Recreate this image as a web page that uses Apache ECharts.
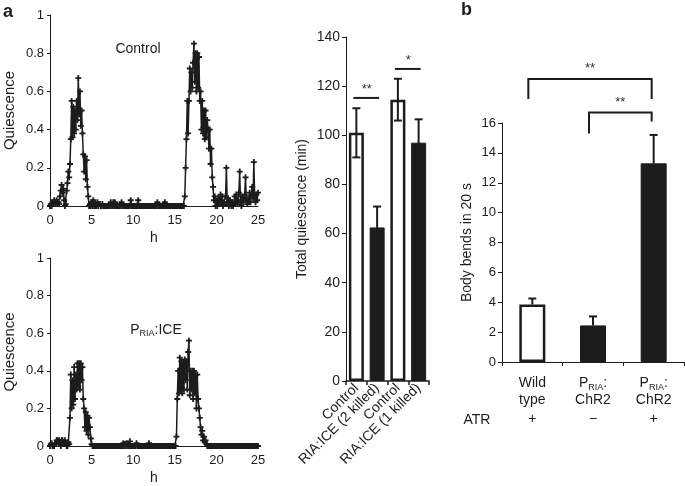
<!DOCTYPE html>
<html>
<head>
<meta charset="utf-8">
<script src="https://cdn.jsdelivr.net/npm/echarts@6/dist/echarts.min.js"></script>
<style>
html, body { margin: 0; padding: 0; background: #fff; }
#chart { width: 685px; height: 486px; }
</style>
</head>
<body>
<div id="chart"></div>
<script>
// quiescence traces, one sample every 0.1 h from 0 to 25 h (one row per hour)
const stepH = 0.1;
const controlTrace = [
  0,
  0.01, 0, 0.02, 0.01, 0.03, 0.02, 0.01, 0.03, 0.01, 0.02,
  0.01, 0.05, 0.08, 0.11, 0.07, 0.09, 0.03, 0, 0.01, 0.08,
  0.12, 0.18, 0.15, 0.22, 0.35, 0.55, 0.36, 0.52, 0.38, 0.5,
  0.4, 0.55, 0.45, 0.67, 0.48, 0.6, 0.42, 0.5, 0.38, 0.27,
  0.18, 0.26, 0.14, 0.24, 0.1, 0.05, 0, 0.01, 0, 0.02,
  0, 0.03, 0, 0.01, 0, 0, 0.02, 0, 0.01, 0.01,
  0, 0, 0.01, 0, 0, 0, 0, 0, 0, 0,
  0, 0, 0.02, 0, 0, 0.02, 0, 0.02, 0, 0,
  0, 0, 0, 0, 0, 0.02, 0, 0, 0, 0,
  0, 0, 0, 0, 0, 0, 0.03, 0, 0, 0,
  0, 0, 0, 0, 0, 0.03, 0, 0, 0, 0,
  0, 0, 0, 0, 0, 0, 0, 0, 0, 0,
  0, 0, 0, 0, 0, 0, 0, 0, 0.02, 0,
  0, 0, 0, 0, 0, 0, 0, 0.02, 0, 0,
  0, 0, 0, 0, 0, 0, 0, 0, 0, 0,
  0, 0, 0, 0, 0, 0, 0, 0, 0, 0,
  0, 0.05, 0.2, 0.35, 0.55, 0.38, 0.55, 0.72, 0.6, 0.7,
  0.62, 0.75, 0.85, 0.65, 0.8, 0.6, 0.8, 0.62, 0.78, 0.55,
  0.6, 0.4, 0.55, 0.38, 0.5, 0.35, 0.5, 0.36, 0.45, 0.4,
  0.3, 0.4, 0.22, 0.3, 0.15, 0.1, 0.03, 0.05, 0, 0.02,
  0, 0.04, 0.01, 0.03, 0.06, 0.02, 0.05, 0, 0.02, 0.01,
  0.05, 0.2, 0.02, 0.04, 0, 0.03, 0.01, 0, 0.02, 0,
  0.01, 0.05, 0.02, 0.06, 0.01, 0.03, 0.07, 0.18, 0.02, 0,
  0.05, 0.02, 0.04, 0.06, 0.15, 0.03, 0.01, 0.04, 0.02, 0.07,
  0.02, 0.06, 0.1, 0.04, 0.23, 0.05, 0.02, 0.06, 0.03, 0.07
];
const iceTrace = [
  0,
  0.01, 0.015, 0, 0, 0, 0.01, 0.01, 0.03, 0.03, 0.02,
  0.03, 0.01, 0, 0.03, 0.03, 0.01, 0.01, 0.03, 0.01, 0,
  0, 0.02, 0.01, 0.15, 0.38, 0.2, 0.35, 0.22, 0.42, 0.25,
  0.38, 0.3, 0.44, 0.32, 0.44, 0.3, 0.44, 0.35, 0.42, 0.25,
  0.2, 0.1, 0.18, 0.08, 0.16, 0.06, 0.15, 0.1, 0.04, 0.01,
  0, 0, 0, 0, 0, 0, 0, 0, 0, 0,
  0, 0, 0, 0, 0, 0, 0, 0, 0, 0,
  0, 0, 0, 0, 0, 0, 0, 0, 0, 0,
  0, 0, 0, 0, 0, 0, 0, 0.015, 0, 0.01,
  0, 0.015, 0, 0, 0, 0.025, 0, 0, 0, 0,
  0, 0, 0, 0.015, 0, 0, 0, 0, 0, 0,
  0, 0, 0, 0, 0, 0, 0, 0, 0.015, 0,
  0, 0, 0, 0, 0, 0, 0, 0, 0, 0,
  0, 0, 0, 0, 0, 0, 0, 0, 0, 0,
  0, 0, 0, 0, 0, 0, 0, 0, 0, 0,
  0, 0.05, 0.25, 0.4, 0.28, 0.47, 0.3, 0.45, 0.28, 0.44,
  0.3, 0.46, 0.35, 0.45, 0.3, 0.5, 0.56, 0.27, 0.4, 0.3,
  0.4, 0.25, 0.4, 0.28, 0.38, 0.2, 0.38, 0.25, 0.2, 0.15,
  0.1, 0.06, 0.08, 0.03, 0.05, 0.02, 0.03, 0.01, 0, 0,
  0, 0, 0, 0, 0, 0, 0, 0, 0, 0,
  0, 0, 0, 0, 0, 0, 0, 0, 0, 0,
  0, 0, 0, 0, 0, 0, 0, 0, 0, 0,
  0, 0, 0, 0, 0, 0, 0, 0, 0, 0,
  0, 0, 0, 0, 0, 0, 0, 0, 0, 0,
  0, 0, 0, 0, 0, 0, 0, 0, 0, 0
];

// total quiescence (min)
const totalCats = ['Control', 'RIA:ICE (2 killed)', 'Control', 'RIA:ICE (1 killed)'];
const totalMean = [101, 62.5, 114.5, 97];
const totalErr = [10, 8.5, 8.5, 9.5];
const totalSig = [[0, 1, 115.2], [2, 3, 127]];
const totalSigText = ['**', '*'];

// body bends in 20 s
const bendCats = ['Wild type', 'PRIA: ChR2', 'PRIA: ChR2 '];
const bendMean = [3.85, 2.45, 13.3];
const bendErr = [0.4, 0.6, 1.9];
const atrSigns = ['+', '\u2212', '+'];
// bracket: from, to, top, left leg end, right leg end
const bendSig = [[0, 2, 18.95, 17.6, 17.6], [1, 2, 16.7, 15.3, 16.1]];
const bendSigText = ['**', '**'];

const FONT = 'Liberation Sans, Arial, sans-serif';
const INK = '#1c1c1c';
const openBar = [true, false, true, false];

const myChart = echarts.init(document.getElementById('chart'));

function traceAxisY(idx) {
  return {
    type: 'value', gridIndex: idx, min: 0, max: 1, interval: 0.2,
    name: 'Quiescence', nameLocation: 'middle', nameGap: 33,
    nameTextStyle: { fontFamily: FONT, fontSize: 15, color: INK },
    axisLine: { show: true, lineStyle: { color: INK, width: 1 } },
    axisTick: { show: true, length: 3, lineStyle: { color: INK } },
    axisLabel: { fontFamily: FONT, fontSize: 13, color: INK, margin: 6 },
    splitLine: { show: false }
  };
}
function traceAxisX(idx) {
  return {
    type: 'value', gridIndex: idx, min: 0, max: 25, interval: 5,
    name: 'h', nameLocation: 'middle', nameGap: 25,
    nameTextStyle: { fontFamily: FONT, fontSize: 14, color: INK },
    axisLine: { lineStyle: { color: INK, width: 1 } },
    axisTick: { show: false },
    axisLabel: { fontFamily: FONT, fontSize: 13, color: INK, margin: 8 },
    splitLine: { show: false }
  };
}
function traceSeries(idx, trace) {
  return {
    type: 'line', xAxisIndex: idx, yAxisIndex: idx,
    data: trace.map((v, i) => [+(i * stepH).toFixed(1), v]),
    symbol: 'path://M0,1.4H4V2.6H0Z M1.4,0H2.6V4H1.4Z',
    symbolSize: 6, showAllSymbol: true,
    itemStyle: { color: INK },
    lineStyle: { color: INK, width: 1.5 },
    animation: false
  };
}

function errorBars(xIdx, yIdx, mean, err, twoSided, cap) {
  return {
    type: 'custom', xAxisIndex: xIdx, yAxisIndex: yIdx, z: 5,
    data: mean.map((m, i) => [i, m, err[i]]),
    renderItem: function (params, api) {
      const i = api.value(0), m = api.value(1), e = api.value(2);
      const top = api.coord([i, m + e]);
      const bot = api.coord([i, twoSided ? m - e : m]);
      const st = { stroke: INK, lineWidth: 2 };
      const kids = [
        { type: 'line', shape: { x1: top[0], y1: top[1], x2: bot[0], y2: bot[1] }, style: st },
        { type: 'line', shape: { x1: top[0] - cap, y1: top[1], x2: top[0] + cap, y2: top[1] }, style: st }
      ];
      if (twoSided) {
        kids.push({ type: 'line', shape: { x1: bot[0] - cap, y1: bot[1], x2: bot[0] + cap, y2: bot[1] }, style: st });
      }
      return { type: 'group', children: kids };
    },
    animation: false
  };
}

myChart.setOption({
  backgroundColor: '#fff',
  animation: false,
  grid: [
    { left: 50, top: 15, width: 208, height: 191 },
    { left: 50, top: 258, width: 208, height: 191 },
    { left: 346, top: 37, width: 83, height: 344 },
    { left: 502, top: 123, width: 182, height: 239 }
  ],
  xAxis: [
    traceAxisX(0),
    traceAxisX(1),
    {
      type: 'category', gridIndex: 2, data: totalCats,
      axisLine: { lineStyle: { color: INK, width: 1.5 } },
      axisTick: { show: true, length: 4, lineStyle: { color: INK, width: 1.5 } },
      axisLabel: { fontFamily: FONT, fontSize: 14, color: INK, rotate: 45, margin: 5, interval: 0 }
    },
    {
      type: 'category', gridIndex: 3, data: bendCats,
      axisLine: { lineStyle: { color: INK, width: 1 } },
      axisTick: { show: true, length: 4, lineStyle: { color: INK } },
      axisLabel: {
        interval: 0, margin: 13, color: INK, fontFamily: FONT, fontSize: 14, lineHeight: 17,
        formatter: function (v, i) {
          const lines = i === 0 ? ['{n|Wild}', '{n|type}'] : ['{n|P}{s|RIA}{n|:}', '{n|ChR2}'];
          return lines.join('\n') + '\n{a|' + atrSigns[i] + '}';
        },
        rich: {
          n: { fontFamily: FONT, fontSize: 14, color: INK, lineHeight: 17 },
          s: { fontFamily: FONT, fontSize: 9, color: INK, lineHeight: 17, verticalAlign: 'bottom', padding: [6, 0, 0, 0] },
          a: { fontFamily: FONT, fontSize: 14, color: INK, lineHeight: 20 }
        }
      }
    }
  ],
  yAxis: [
    traceAxisY(0),
    traceAxisY(1),
    {
      type: 'value', gridIndex: 2, min: 0, max: 140, interval: 20,
      name: 'Total quiescence (min)', nameLocation: 'middle', nameGap: 37,
      nameTextStyle: { fontFamily: FONT, fontSize: 14, color: INK },
      axisLine: { show: true, lineStyle: { color: INK, width: 1 } },
      axisTick: { show: true, length: 4, lineStyle: { color: INK } },
      axisLabel: { fontFamily: FONT, fontSize: 14, color: INK, margin: 6 },
      splitLine: { show: false }
    },
    {
      type: 'value', gridIndex: 3, min: 0, max: 16, interval: 2,
      name: 'Body bends in 20 s', nameLocation: 'middle', nameGap: 28,
      nameTextStyle: { fontFamily: FONT, fontSize: 14, color: INK },
      axisLine: { show: true, lineStyle: { color: INK, width: 1 } },
      axisTick: { show: true, length: 4, lineStyle: { color: INK } },
      axisLabel: { fontFamily: FONT, fontSize: 13, color: INK, margin: 6 },
      splitLine: { show: false }
    }
  ],
  series: [
    traceSeries(0, controlTrace),
    traceSeries(1, iceTrace),
    {
      type: 'bar', xAxisIndex: 2, yAxisIndex: 2, barWidth: 15,
      data: totalMean.map((v, i) => ({
        value: v,
        itemStyle: openBar[i]
          ? { color: '#fff', borderColor: INK, borderWidth: 2.5 }
          : { color: INK, borderColor: INK, borderWidth: 1 }
      }))
    },
    errorBars(2, 2, totalMean, totalErr, true, 4),
    {
      type: 'custom', xAxisIndex: 2, yAxisIndex: 2, z: 6,
      data: totalSig,
      renderItem: function (params, api) {
        const a = api.coord([api.value(0), api.value(2)]);
        const b = api.coord([api.value(1), api.value(2)]);
        return {
          type: 'group', children: [
            { type: 'line', shape: { x1: a[0] - 3, y1: a[1], x2: b[0] + 2, y2: b[1] }, style: { stroke: INK, lineWidth: 2 } },
            { type: 'text', style: { text: totalSigText[params.dataIndex], x: (a[0] + b[0]) / 2, y: a[1] - 2, align: 'center', verticalAlign: 'bottom', fontFamily: FONT, fontSize: 13, fill: '#333' } }
          ]
        };
      }
    },
    {
      type: 'bar', xAxisIndex: 3, yAxisIndex: 3, barWidth: 26,
      data: bendMean.map((v, i) => ({
        value: v,
        itemStyle: i === 0
          ? { color: '#fff', borderColor: INK, borderWidth: 2.5 }
          : { color: INK, borderColor: INK, borderWidth: 1 }
      }))
    },
    errorBars(3, 3, bendMean, bendErr, false, 4),
    {
      type: 'custom', xAxisIndex: 3, yAxisIndex: 3, z: 6,
      data: bendSig,
      renderItem: function (params, api) {
        const l = api.coord([api.value(0), api.value(2)]);
        const r = api.coord([api.value(1), api.value(2)]);
        const lEnd = api.coord([api.value(0), api.value(3)]);
        const rEnd = api.coord([api.value(1), api.value(4)]);
        const st = { stroke: INK, lineWidth: 2, fill: null };
        return {
          type: 'group', children: [
            { type: 'polyline', shape: { points: [[lEnd[0] - 4, lEnd[1]], [l[0] - 4, l[1]], [r[0] - 2, r[1]], [rEnd[0] - 2, rEnd[1]]] }, style: st },
            { type: 'text', style: { text: bendSigText[params.dataIndex], x: (l[0] + r[0]) / 2 - 3, y: l[1] - 4, align: 'center', verticalAlign: 'bottom', fontFamily: FONT, fontSize: 13, fill: '#333' } }
          ]
        };
      }
    }
  ],
  graphic: [
    { type: 'text', left: 3, top: 3, style: { text: 'a', font: 'bold 18px ' + FONT, fill: INK } },
    { type: 'text', left: 461, top: 1, style: { text: 'b', font: 'bold 18px ' + FONT, fill: INK } },
    { type: 'text', x: 138, y: 49, style: { text: 'Control', align: 'center', verticalAlign: 'middle', font: '14px ' + FONT, fill: INK } },
    {
      type: 'text', x: 156, y: 330,
      style: {
        text: '{n|P}{s|RIA}{n|:ICE}', align: 'center', verticalAlign: 'middle',
        rich: {
          n: { fontFamily: FONT, fontSize: 14, fill: INK, lineHeight: 17 },
          s: { fontFamily: FONT, fontSize: 9, fill: INK, lineHeight: 17, verticalAlign: 'bottom', padding: [6, 0, 0, 0] }
        }
      }
    },
    { type: 'text', x: 477, y: 420, style: { text: 'ATR', align: 'center', verticalAlign: 'middle', font: '14px ' + FONT, fill: INK } }
  ]
});
</script>
</body>
</html>
